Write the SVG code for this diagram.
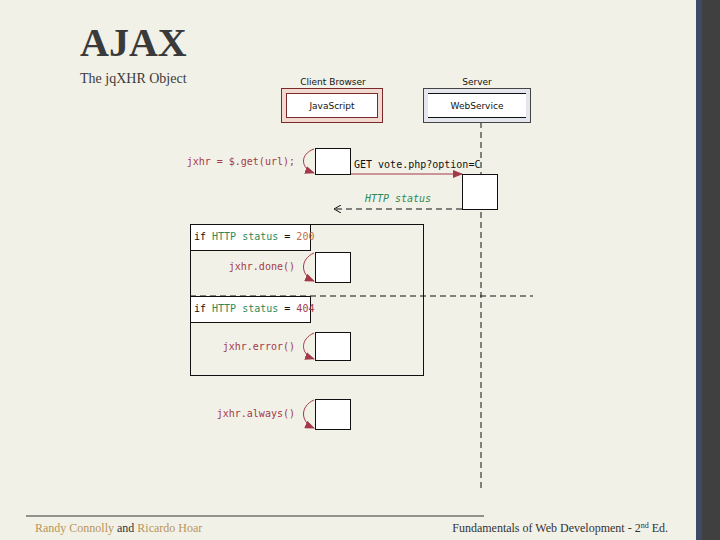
<svg xmlns="http://www.w3.org/2000/svg" width="720" height="540" viewBox="0 0 720 540">
<style>
.mono{font-family:"DejaVu Sans Mono","Liberation Mono",monospace;font-size:10px}
.sans{font-family:"DejaVu Sans","Liberation Sans",sans-serif;font-size:9px;fill:#111}
.ser{font-family:"Liberation Serif",serif}
.red{fill:#a33a4a}
.grn{fill:#2e8b57}
.act{fill:#fff;stroke:#111;stroke-width:1}
.loop{fill:none;stroke:#a33a4a;stroke-width:1}
.dash{fill:none;stroke:#111;stroke-dasharray:6,4}
</style>
<defs>
<marker id="ah" markerWidth="10" markerHeight="8" refX="9" refY="4" orient="auto" markerUnits="userSpaceOnUse"><path d="M0,0 L10,4 L0,8 Z" fill="#a33a4a"/></marker>
<marker id="open" markerWidth="8" markerHeight="8" refX="7" refY="4" orient="auto" markerUnits="userSpaceOnUse"><path d="M0,0 L7,4 L0,8" fill="none" stroke="#111"/></marker>
</defs>
<rect width="720" height="540" fill="#f2f1e7"/>
<rect x="696" y="0" width="6" height="540" fill="#3c4a66"/>
<rect x="702" y="0" width="18" height="540" fill="#404040"/>
<text x="80" y="56" class="ser" font-size="40" font-weight="bold" fill="#3a3a3a">AJAX</text>
<text x="80" y="83" class="ser" font-size="14" fill="#3a3a3a">The jqXHR Object</text>
<g id="connectors">
<line x1="481" y1="122" x2="481" y2="490" class="dash"/>
<line x1="190" y1="296" x2="533" y2="296" class="dash"/>
<line x1="350" y1="174" x2="462" y2="174" stroke="#a33a4a" stroke-width="1.2" marker-end="url(#ah)"/>
<line x1="462" y1="209" x2="334" y2="209" class="dash" stroke-dasharray="5,3" marker-end="url(#open)"/>
<text x="398" y="202" class="mono grn" font-style="italic" text-anchor="middle">HTTP status</text>
<text x="354" y="168" class="mono" fill="#111">GET vote.php?option=C</text>
</g>
<g id="client">
<text x="333" y="85" class="sans" text-anchor="middle">Client Browser</text>
<rect x="281.5" y="88.5" width="101" height="34" fill="#f2d9d0" stroke="#7a2a2a"/>
<rect x="286.5" y="93.5" width="91" height="24" fill="#fff" stroke="#7a2a2a"/>
<text x="332" y="109" class="sans" text-anchor="middle">JavaScript</text>
</g>
<g id="server">
<text x="477" y="85" class="sans" text-anchor="middle">Server</text>
<rect x="423.5" y="88.5" width="107" height="34" fill="#e4e6ee" stroke="#444"/>
<rect x="428" y="93" width="98" height="24" fill="#fff"/>
<line x1="428" y1="93.5" x2="526" y2="93.5" stroke="#111"/>
<line x1="428" y1="117.5" x2="526" y2="117.5" stroke="#111"/>
<text x="477" y="109" class="sans" text-anchor="middle">WebService</text>
</g>
<g id="get">
<rect x="315.5" y="148.5" width="35" height="26" class="act"/>
<path d="M314,149 C300,154 300,168 314,173" class="loop" marker-end="url(#ah)"/>
<text x="295" y="165" class="mono red" text-anchor="end">jxhr = $.get(url);</text>
</g>
<g id="server-act"><rect x="462.5" y="174.5" width="35" height="35" class="act"/></g>
<g id="frame">
<rect x="190.5" y="224.5" width="233" height="151" fill="none" stroke="#111"/>
<rect x="190.5" y="224.5" width="120" height="26" fill="#fff" stroke="#111"/>
<text x="194" y="240" class="mono" fill="#111">if <tspan class="grn">HTTP status</tspan> = <tspan fill="#c0704a">200</tspan></text>
<rect x="190.5" y="296.5" width="120" height="26" fill="#fff" stroke="#111"/>
<text x="194" y="312" class="mono" fill="#111">if <tspan class="grn">HTTP status</tspan> = <tspan fill="#a33a4a">404</tspan></text>
</g>
<g id="done">
<rect x="315.5" y="252.5" width="35" height="30" class="act"/>
<path d="M314,253 C300,259 300,275 314,281" class="loop" marker-end="url(#ah)"/>
<text x="295" y="270" class="mono red" text-anchor="end">jxhr.done()</text>
</g>
<g id="error">
<rect x="315.5" y="332.5" width="35" height="28" class="act"/>
<path d="M314,333 C300,339 300,354 314,359" class="loop" marker-end="url(#ah)"/>
<text x="295" y="350" class="mono red" text-anchor="end">jxhr.error()</text>
</g>
<g id="always">
<rect x="315.5" y="399.5" width="35" height="30" class="act"/>
<path d="M314,400 C300,406 300,422 314,428" class="loop" marker-end="url(#ah)"/>
<text x="295" y="417" class="mono red" text-anchor="end">jxhr.always()</text>
</g>
<line x1="26" y1="516" x2="484" y2="516" stroke="#333"/>
<text x="35" y="532" class="ser" font-size="12" fill="#333"><tspan fill="#b8955a">Randy Connolly</tspan> and <tspan fill="#b8955a">Ricardo Hoar</tspan></text>
<text x="668" y="532" class="ser" font-size="12" fill="#333" text-anchor="end">Fundamentals of Web Development - 2<tspan font-size="8" dy="-4">nd</tspan><tspan dy="4"> Ed.</tspan></text>
</svg>
